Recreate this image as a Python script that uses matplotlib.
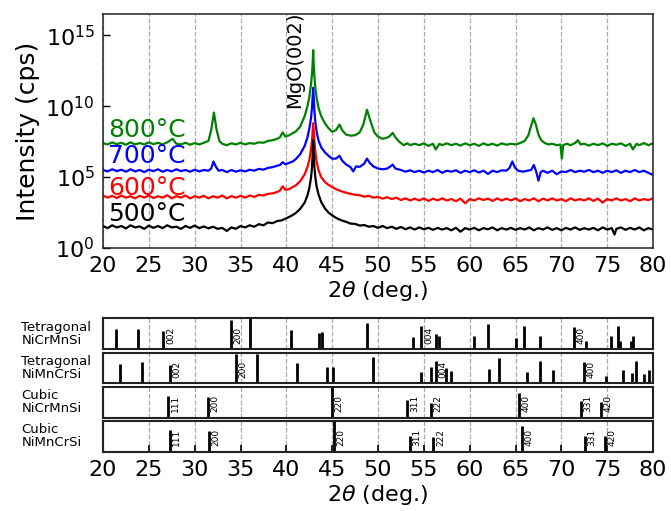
import matplotlib.pyplot as plt
import numpy as np
from matplotlib.ticker import NullLocator

# XRD scans: (2theta in deg, log10 intensity in cps), offset per anneal temperature
scan_500 = [
    (20, 1.55), (20.5, 1.40), (21, 1.60), (21.5, 1.45), (22, 1.55), (22.5, 1.38), (23, 1.60), (23.5, 1.45),
    (24, 1.52), (24.5, 1.35), (25, 1.58), (25.5, 1.42), (26, 1.55), (26.5, 1.40), (27, 1.60), (27.5, 1.45),
    (28, 1.50), (28.5, 1.35), (29, 1.55), (29.5, 1.42), (30, 1.58), (30.5, 1.40), (31, 1.52), (31.5, 1.38),
    (32, 1.50), (32.5, 1.35), (33, 1.42), (33.5, 1.20), (34, 1.45), (34.5, 1.35), (35, 1.55), (35.5, 1.45),
    (36, 1.60), (36.5, 1.50), (37, 1.68), (37.5, 1.60), (38, 1.80), (38.5, 1.75), (39, 1.90), (39.5, 1.95),
    (40, 2.10), (40.5, 2.25), (41, 2.45), (41.5, 2.75), (42, 3.20), (42.3, 3.70), (42.5, 4.20), (42.7, 5.00),
    (42.8, 5.70), (42.87, 6.60), (42.93, 7.60), (42.99, 6.60), (43.06, 5.70), (43.16, 5.00), (43.3, 4.35),
    (43.5, 3.80), (43.8, 3.25), (44.2, 2.80), (44.6, 2.50), (45, 2.30), (45.5, 2.10), (46, 1.95), (46.5, 1.85),
    (47, 1.72), (47.5, 1.70), (48, 1.58), (48.5, 1.62), (49, 1.50), (49.5, 1.55), (50, 1.42), (50.5, 1.55),
    (51, 1.40), (51.5, 1.50), (52, 1.35), (52.5, 1.48), (53, 1.32), (53.5, 1.45), (54, 1.30), (54.5, 1.45),
    (55, 1.32), (55.5, 1.42), (56, 1.28), (56.5, 1.42), (57, 1.30), (57.5, 1.40), (58, 1.25), (58.5, 1.42),
    (59, 1.15), (59.5, 1.40), (60, 1.30), (60.5, 1.42), (61, 1.25), (61.5, 1.40), (62, 1.32), (62.5, 1.45),
    (63, 1.25), (63.5, 1.40), (64, 1.30), (64.5, 1.42), (65, 1.28), (65.5, 1.40), (66, 1.30), (66.5, 1.45),
    (67, 1.25), (67.5, 1.40), (68, 1.30), (68.5, 1.45), (69, 1.28), (69.5, 1.40), (70, 1.25), (70.5, 1.42),
    (71, 1.30), (71.5, 1.45), (72, 1.28), (72.5, 1.40), (73, 1.30), (73.5, 1.42), (74, 1.25), (74.5, 1.45),
    (75, 1.30), (75.5, 1.40), (75.8, 0.95), (76, 1.35), (76.5, 1.45), (77, 1.28), (77.5, 1.42), (78, 1.30),
    (78.5, 1.45), (79, 1.25), (79.5, 1.40), (80, 1.30),
]
scan_600 = [
    (20, 3.70), (20.5, 3.55), (21, 3.68), (21.5, 3.52), (22, 3.70), (22.5, 3.55), (23, 3.65), (23.5, 3.50),
    (24, 3.68), (24.5, 3.55), (25, 3.70), (25.5, 3.52), (26, 3.65), (26.5, 3.55), (27, 3.72), (27.5, 3.50),
    (28, 3.66), (28.5, 3.55), (29, 3.70), (29.5, 3.50), (30, 3.65), (30.5, 3.55), (31, 3.68), (31.5, 3.50),
    (32, 3.65), (32.5, 3.55), (33, 3.70), (33.5, 3.50), (34, 3.66), (34.5, 3.55), (35, 3.68), (35.5, 3.55),
    (36, 3.70), (36.5, 3.60), (37, 3.75), (37.5, 3.70), (38, 3.82), (38.5, 3.85), (39, 3.95), (39.3, 4.05),
    (39.6, 4.35), (39.9, 4.10), (40.3, 4.15), (40.7, 4.30), (41, 4.40), (41.5, 4.70), (42, 5.20), (42.3, 5.70),
    (42.5, 6.20), (42.7, 7.00), (42.8, 7.60), (42.87, 8.20), (42.93, 8.80), (42.99, 8.20), (43.06, 7.50),
    (43.16, 6.80), (43.3, 6.10), (43.5, 5.50), (43.8, 5.00), (44.2, 4.65), (44.6, 4.45), (45, 4.30),
    (45.5, 4.12), (46, 4.00), (46.5, 3.90), (47, 3.82), (47.5, 3.75), (48, 3.72), (48.5, 3.62), (49, 3.68),
    (49.5, 3.55), (50, 3.60), (50.5, 3.48), (51, 3.58), (51.5, 3.45), (52, 3.55), (52.5, 3.38), (53, 3.50),
    (53.5, 3.35), (54, 3.48), (54.5, 3.35), (55, 3.50), (55.5, 3.32), (56, 3.48), (56.5, 3.36), (57, 3.50),
    (57.5, 3.35), (58, 3.45), (58.5, 3.30), (59, 3.48), (59.5, 3.15), (60, 3.45), (60.5, 3.35), (61, 3.50),
    (61.5, 3.38), (62, 3.48), (62.5, 3.32), (63, 3.50), (63.5, 3.35), (64, 3.48), (64.5, 3.35), (65, 3.50),
    (65.5, 3.30), (66, 3.45), (66.5, 3.35), (67, 3.50), (67.5, 3.30), (68, 3.48), (68.5, 3.35), (69, 3.50),
    (69.5, 3.35), (70, 3.45), (70.5, 3.30), (71, 3.50), (71.5, 3.35), (72, 3.45), (72.5, 3.35), (73, 3.50),
    (73.5, 3.32), (74, 3.48), (74.5, 3.20), (75, 3.45), (75.5, 3.35), (76, 3.50), (76.5, 3.35), (77, 3.45),
    (77.5, 3.30), (78, 3.50), (78.5, 3.35), (79, 3.45), (79.5, 3.38), (80, 3.50),
]
scan_700 = [
    (20, 5.50), (20.5, 5.40), (21, 5.55), (21.5, 5.42), (22, 5.52), (22.5, 5.38), (23, 5.55), (23.5, 5.40),
    (24, 5.50), (24.5, 5.35), (25, 5.52), (25.5, 5.42), (26, 5.55), (26.5, 5.38), (27, 5.50), (27.5, 5.40),
    (28, 5.55), (28.5, 5.42), (29, 5.50), (29.5, 5.38), (30, 5.52), (30.5, 5.40), (31, 5.50), (31.5, 5.45),
    (31.8, 5.60), (32.05, 6.10), (32.3, 5.75), (32.6, 5.45), (33, 5.50), (33.5, 5.35), (34, 5.50), (34.5, 5.38),
    (35, 5.48), (35.5, 5.40), (36, 5.52), (36.5, 5.45), (37, 5.58), (37.5, 5.52), (38, 5.65), (38.5, 5.70),
    (39, 5.80), (39.3, 5.85), (39.6, 6.05), (39.9, 5.90), (40.3, 6.00), (40.7, 6.10), (41, 6.25), (41.5, 6.60),
    (42, 7.20), (42.3, 7.80), (42.5, 8.40), (42.7, 9.20), (42.8, 9.90), (42.87, 10.60), (42.93, 11.30),
    (42.99, 10.50), (43.06, 9.70), (43.16, 8.90), (43.3, 8.20), (43.5, 7.60), (43.8, 7.10), (44.2, 6.75),
    (44.6, 6.50), (45, 6.30), (45.4, 6.30), (45.8, 6.50), (46.1, 6.15), (46.5, 5.90), (47, 5.70), (47.3, 5.40),
    (47.6, 5.75), (48, 5.72), (48.5, 5.95), (48.8, 6.30), (49.1, 6.00), (49.5, 5.75), (50, 5.60), (50.5, 5.55),
    (51, 5.60), (51.35, 5.75), (51.6, 5.88), (51.9, 5.60), (52.5, 5.50), (53, 5.38), (53.5, 5.48), (54, 5.35),
    (54.5, 5.45), (55, 5.32), (55.5, 5.45), (56, 5.35), (56.5, 5.50), (57, 5.30), (57.5, 5.45), (58, 5.38),
    (58.5, 5.48), (59, 5.30), (59.5, 5.45), (60, 5.35), (60.5, 5.48), (61, 5.32), (61.5, 5.45), (62, 5.22),
    (62.5, 5.45), (63, 5.35), (63.5, 5.48), (64, 5.45), (64.35, 5.65), (64.65, 6.10), (64.95, 5.65),
    (65.3, 5.45), (65.8, 5.38), (66.3, 5.45), (66.7, 5.50), (67, 5.85), (67.25, 5.40), (67.5, 4.75),
    (67.75, 5.35), (68, 5.45), (68.5, 5.30), (69, 5.45), (69.5, 5.20), (70, 5.40), (70.5, 5.35), (71, 5.50),
    (71.5, 5.35), (72, 5.45), (72.5, 5.38), (73, 5.50), (73.5, 5.35), (74, 5.45), (74.5, 5.30), (75, 5.45),
    (75.5, 5.35), (76, 5.48), (76.5, 5.30), (77, 5.45), (77.5, 5.35), (78, 5.50), (78.5, 5.35), (79, 5.45),
    (79.5, 5.30), (80, 5.15),
]
scan_800 = [
    (20, 7.40), (20.5, 7.30), (21, 7.45), (21.5, 7.32), (22, 7.42), (22.5, 7.28), (23, 7.45), (23.5, 7.30),
    (24, 7.40), (24.5, 7.30), (25, 7.45), (25.5, 7.32), (26, 7.42), (26.5, 7.30), (27, 7.45), (27.6, 7.70),
    (28, 7.35), (28.5, 7.30), (29, 7.42), (29.5, 7.28), (30, 7.40), (30.5, 7.30), (31, 7.42), (31.5, 7.55),
    (31.8, 8.30), (32.1, 9.55), (32.4, 8.30), (32.7, 7.55), (33, 7.35), (33.5, 7.25), (34, 7.38), (34.5, 7.30),
    (35, 7.42), (35.5, 7.30), (36, 7.40), (36.5, 7.35), (37, 7.45), (37.5, 7.42), (38, 7.55), (38.5, 7.60),
    (39, 7.70), (39.3, 7.80), (39.6, 8.15), (39.9, 7.85), (40.3, 7.95), (40.7, 8.10), (41, 8.20), (41.5, 8.55),
    (42, 9.30), (42.3, 10.00), (42.5, 10.60), (42.7, 11.60), (42.8, 12.30), (42.87, 13.00), (42.93, 13.95),
    (42.99, 12.90), (43.06, 12.10), (43.16, 11.30), (43.3, 10.60), (43.5, 9.90), (43.8, 9.30), (44.2, 8.80),
    (44.6, 8.45), (45, 8.20), (45.4, 8.30), (45.8, 8.70), (46.1, 8.30), (46.5, 8.00), (47, 7.92), (47.5, 7.95),
    (48, 8.15), (48.4, 8.70), (48.8, 9.75), (49.2, 8.90), (49.6, 8.15), (50, 7.85), (50.5, 7.70), (51, 7.78),
    (51.3, 7.90), (51.6, 8.12), (51.9, 7.80), (52.3, 7.50), (52.8, 7.25), (53.2, 7.38), (53.5, 7.25),
    (54, 7.35), (54.5, 7.25), (55, 7.38), (55.5, 7.20), (56, 7.35), (56.3, 6.95), (56.7, 7.35), (57, 7.25),
    (57.5, 7.38), (58, 7.25), (58.5, 7.35), (59, 7.22), (59.5, 7.38), (60, 7.25), (60.5, 7.35), (61, 7.20),
    (61.5, 7.38), (62, 7.25), (62.5, 7.35), (63, 7.22), (63.5, 7.38), (64, 7.28), (64.5, 7.35), (65, 7.30),
    (65.5, 7.40), (66, 7.55), (66.4, 7.95), (66.7, 8.60), (66.95, 9.15), (67.2, 8.75), (67.5, 8.00),
    (67.8, 7.60), (68.2, 7.40), (68.6, 7.30), (69, 7.35), (69.5, 7.25), (69.9, 7.30), (70.05, 6.30),
    (70.2, 7.25), (70.6, 7.35), (71, 7.25), (71.5, 7.40), (71.8, 7.60), (72.1, 7.30), (72.5, 7.35),
    (73, 7.22), (73.5, 7.35), (74, 7.25), (74.5, 7.38), (75, 7.20), (75.5, 7.35), (76, 7.28), (76.5, 7.38),
    (77, 7.20), (77.5, 7.35), (77.8, 6.95), (78.2, 7.35), (78.5, 7.25), (79, 7.40), (79.5, 7.25), (80, 7.38),
]

scans = [scan_800, scan_700, scan_600, scan_500]
temps = ["800°C", "700°C", "600°C", "500°C"]
colors = ["green", "blue", "red", "black"]
temp_label_level = [7.85, 5.98, 3.75, 1.87]

# reference stick patterns: positions (deg), relative intensities, indexed reflections
tet1_pos = [21.45, 23.85, 26.58, 33.96, 36.03, 40.5, 43.55, 43.92, 48.75, 53.8, 54.72, 56.35, 56.6,
            60.5, 62.02, 65.1, 65.91, 67.65, 71.4, 72.64, 75.47, 76.23, 76.45, 77.58, 77.83]
tet1_int = [0.67, 0.67, 0.59, 0.94, 1.0, 0.64, 0.53, 0.56, 0.84, 0.39, 0.76, 0.48, 0.42,
            0.44, 0.83, 0.37, 0.76, 0.42, 0.73, 0.26, 0.44, 0.76, 0.28, 0.28, 0.44]
tet1_hkl_pos = [26.58, 33.96, 54.72, 71.4]
tet1_hkl = ["002", "200", "004", "400"]

tet2_pos = [21.85, 24.21, 27.31, 34.47, 36.76, 41.12, 44.46, 45.1, 49.48, 54.64, 55.73, 56.31, 57.37,
            57.91, 62.1, 63.15, 66.2, 67.65, 69.1, 72.49, 74.85, 76.74, 77.72, 78.13, 79.03, 79.54]
tet2_int = [0.63, 0.68, 0.6, 0.94, 0.95, 0.65, 0.53, 0.53, 0.84, 0.37, 0.53, 0.74, 0.49,
            0.41, 0.47, 0.81, 0.36, 0.74, 0.42, 0.71, 0.23, 0.44, 0.34, 0.74, 0.32, 0.42]
tet2_hkl_pos = [27.31, 34.47, 56.31, 72.49]
tet2_hkl = ["002", "200", "004", "400"]

cub1_pos = [27.13, 31.42, 44.94, 53.2, 55.77, 65.37, 72.1, 74.28]
cub1_int = [0.70, 0.68, 0.98, 0.57, 0.46, 0.81, 0.55, 0.52]
cub1_hkl = ["111", "200", "220", "311", "222", "400", "331", "420"]

cub2_pos = [27.26, 31.56, 45.2, 53.48, 56.03, 65.73, 72.56, 74.78]
cub2_int = [0.71, 0.68, 0.98, 0.51, 0.49, 0.84, 0.52, 0.52]
cub2_hkl = ["111", "200", "220", "311", "222", "400", "331", "420"]

patterns = [
    ("Tetragonal\nNiCrMnSi", tet1_pos, tet1_int, tet1_hkl_pos, tet1_hkl),
    ("Tetragonal\nNiMnCrSi", tet2_pos, tet2_int, tet2_hkl_pos, tet2_hkl),
    ("Cubic\nNiCrMnSi", cub1_pos, cub1_int, cub1_pos, cub1_hkl),
    ("Cubic\nNiMnCrSi", cub2_pos, cub2_int, cub2_pos, cub2_hkl),
]

x_ticks = np.arange(20, 81, 5)
grid_style = dict(color="#aaaaaa", linestyle="--", linewidth=0.9)

fig = plt.figure(figsize=(6.71, 5.11), dpi=100)

# --- measured scans ---
ax = fig.add_axes([0.1535, 0.5147, 0.8197, 0.4579])
for scan, color in zip(scans, colors):
    two_theta, level = np.array(scan).T
    ax.plot(two_theta, 10 ** level, color=color, linewidth=1.6)
for text, color, level in zip(temps, colors, temp_label_level):
    ax.text(20.55, 10 ** level, text, color=color, fontsize=18, ha="left", va="baseline")
ax.text(40.95, 10 ** 9.85, "MgO(002)", rotation=90, fontsize=14, ha="center", va="bottom")

ax.set_yscale("log")
ax.set_xlim(20, 80)
ax.set_ylim(1, 10 ** 16.5)
ax.set_xticks(x_ticks)
ax.set_yticks([1e0, 1e5, 1e10, 1e15])
ax.yaxis.set_minor_locator(NullLocator())
ax.tick_params(axis="both", labelsize=16, direction="in")
ax.tick_params(axis="x", length=0, pad=6)
ax.tick_params(axis="y", length=5, width=1, pad=6)
ax.grid(axis="x", **grid_style)
ax.set_ylabel("Intensity (cps)", fontsize=18, labelpad=4)
ax.set_xlabel(r"2$\theta$ (deg.)", fontsize=16, labelpad=2)
for spine in ax.spines.values():
    spine.set_color("#222222")
    spine.set_linewidth(1.1)

# --- reference patterns ---
panel_bottoms = [0.3164, 0.2496, 0.1828, 0.1160]
panel_height = 0.0605
for (name, pos, inten, hkl_pos, hkl), bottom in zip(patterns, panel_bottoms):
    pax = fig.add_axes([0.1535, bottom, 0.8197, panel_height])
    pax.vlines(pos, 0, inten, color="black", linewidth=2.0)
    for p, label in zip(hkl_pos, hkl):
        pax.text(p + 0.3, 0.45, label, rotation=90, fontsize=6.5, ha="left", va="center")
    pax.set_xlim(20, 80)
    pax.set_ylim(0, 1)
    pax.set_xticks(x_ticks)
    pax.set_yticks([])
    pax.grid(axis="x", **grid_style)
    pax.set_axisbelow(True)
    for spine in pax.spines.values():
        spine.set_color("#222222")
        spine.set_linewidth(1.5)
    fig.text(0.032, bottom + panel_height / 2, name, fontsize=9.5, ha="left", va="center",
             linespacing=1.0)
    if bottom == panel_bottoms[-1]:
        pax.tick_params(axis="x", direction="in", length=5, width=1.2, labelsize=16, pad=6)
        pax.set_xlabel(r"2$\theta$ (deg.)", fontsize=16, labelpad=2)
    else:
        pax.tick_params(axis="x", length=0, labelbottom=False)

fig.savefig("out.png", dpi=100)
